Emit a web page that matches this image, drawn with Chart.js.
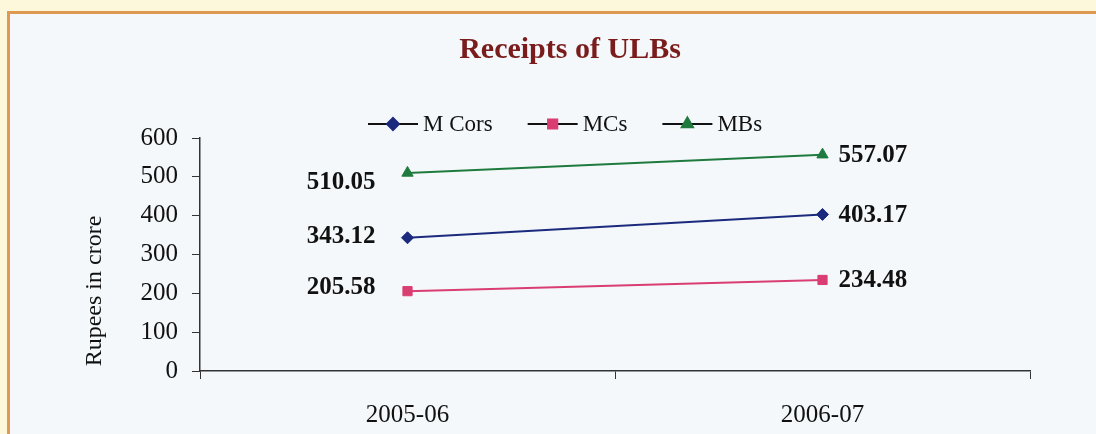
<!DOCTYPE html>
<html>
<head>
<meta charset="utf-8">
<script src="https://cdn.jsdelivr.net/npm/chart.js@4"></script>
<style>
  html, body { margin: 0; padding: 0; background: #fdf8dc; }
  #frame {
    position: absolute; left: 7px; top: 11px; width: 1089px; height: 423px;
    border-top: 3px solid #df9a52; border-left: 3px solid #df9a52;
    background: #f4f8fb; box-sizing: border-box;
  }
  #wrap { position: absolute; left: 0; top: 0; width: 1096px; height: 434px; }
</style>
</head>
<body>
<div id="frame"></div>
<div id="wrap"><canvas id="receitas" width="1096" height="434"></canvas></div>
<script>
// dados do gráfico
const anos = ["2005-06", "2006-07"];
const mCors = [343.12, 403.17];
const mcs = [205.58, 234.48];
const mbs = [510.05, 557.07];
const yTicks = [0, 100, 200, 300, 400, 500, 600];

const serif = "'Liberation Serif', 'Times New Roman', serif";

// rótulos de valor ao lado de cada ponto
const rotulos = {
    id: "rotulos",
    afterDatasetsDraw(chart) {
        const ctx = chart.ctx;
        ctx.save();
        ctx.font = "bold 25px " + serif;
        ctx.fillStyle = "#111";
        ctx.textBaseline = "middle";
        chart.data.datasets.forEach((ds, i) => {
            chart.getDatasetMeta(i).data.forEach((pt, j) => {
                const txt = ds.data[j].toFixed(2);
                if (j === 0) {
                    ctx.textAlign = "right";
                    ctx.fillText(txt, pt.x - 32, pt.y + ds.dyLeft);
                } else {
                    ctx.textAlign = "left";
                    ctx.fillText(txt, pt.x + 16, pt.y + 1);
                }
            });
        });
        ctx.restore();
    },
};

// título, legenda e título do eixo
const extras = {
    id: "extras",
    afterDraw(chart) {
        const ctx = chart.ctx;
        ctx.save();
        ctx.fillStyle = "#7a1c1c";
        ctx.font = "bold 30px " + serif;
        ctx.textAlign = "center";
        ctx.textBaseline = "middle";
        ctx.fillText("Receipts of ULBs", 570, 50);

        // legenda
        ctx.font = "23px " + serif;
        ctx.textAlign = "left";
        let x = 368;
        const y = 124;
        chart.data.datasets.forEach((ds) => {
            ctx.strokeStyle = "#111";
            ctx.lineWidth = 2;
            ctx.beginPath();
            ctx.moveTo(x, y);
            ctx.lineTo(x + 50, y);
            ctx.stroke();
            ctx.fillStyle = ds.borderColor;
            ctx.strokeStyle = ds.borderColor;
            Chart.helpers.drawPoint(ctx, {
                pointStyle: ds.pointStyle,
                radius: ds.pointRadius,
                rotation: 0,
                borderWidth: 1,
            }, x + 25, y);
            ctx.fillStyle = "#111";
            ctx.fillText(ds.label, x + 55, y + 1);
            x += 55 + ctx.measureText(ds.label).width + 35;
        });

        // título do eixo y
        ctx.translate(95, 291);
        ctx.rotate(-Math.PI / 2);
        ctx.textAlign = "center";
        ctx.font = "24px " + serif;
        ctx.fillText("Rupees in crore", 0, 0);
        ctx.restore();
    },
};

document.addEventListener("DOMContentLoaded", () => {
    const ctx = document.getElementById("receitas").getContext("2d");

    const myChart = new Chart(ctx, {
        type: "line",
        data: {
            labels: anos,
            datasets: [
                {
                    label: "M Cors",
                    data: mCors,
                    borderColor: "#1c2a7e",
                    backgroundColor: "#1c2a7e",
                    pointStyle: "rectRot",
                    pointRadius: 6,
                    dyLeft: -1,
                },
                {
                    label: "MCs",
                    data: mcs,
                    borderColor: "#d93d72",
                    backgroundColor: "#d93d72",
                    pointStyle: "rect",
                    pointRadius: 6.5,
                    dyLeft: -4,
                },
                {
                    label: "MBs",
                    data: mbs,
                    borderColor: "#1f7a3e",
                    backgroundColor: "#1f7a3e",
                    pointStyle: "triangle",
                    pointRadius: 6.5,
                    dyLeft: 10,
                },
            ],
        },
        options: {
            responsive: false,
            animation: false,
            layout: { padding: { left: 0, right: 66, top: 138, bottom: 0 } },
            datasets: {
                line: { borderWidth: 2, pointBorderWidth: 1, tension: 0 },
            },
            plugins: {
                legend: { display: false },
                title: { display: false },
                tooltip: { enabled: false },
            },
            scales: {
                x: {
                    offset: true,
                    afterFit: (s) => { s.height = 63; },
                    grid: {
                        offset: true,
                        drawOnChartArea: false,
                        tickLength: 8,
                        color: "#333",
                    },
                    border: { color: "#333", width: 1.5 },
                    ticks: {
                        padding: 21,
                        color: "#111",
                        font: { family: serif, size: 25 },
                        maxRotation: 0,
                    },
                },
                y: {
                    min: 0,
                    max: 600,
                    afterFit: (s) => { s.width = 200; },
                    afterBuildTicks: (s) => { s.ticks = yTicks.map((v) => ({ value: v })); },
                    grid: {
                        drawOnChartArea: false,
                        tickLength: 8,
                        color: "#333",
                    },
                    border: { color: "#333", width: 1.5 },
                    ticks: {
                        padding: 14,
                        color: "#111",
                        font: { family: serif, size: 25 },
                    },
                },
            },
        },
        plugins: [rotulos, extras],
    });
});
</script>
</body>
</html>
